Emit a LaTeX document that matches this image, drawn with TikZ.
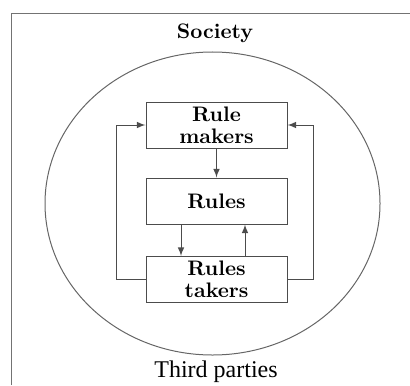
\documentclass[tikz,border=0pt]{standalone}
\usepackage{fontspec}
\setmainfont{Liberation Serif}
\newfontfamily\heavyserif{Latin Modern Roman}

\begin{document}
\begin{tikzpicture}[
x=0.5pt, y=-0.5pt,
line width=0.5pt,
draw=black!70,
box/.style={
draw=black!70,
align=center,
minimum width=70.5pt,
minimum height=23pt,
inner sep=1pt,
font=\fontsize{10.5}{11}\heavyserif\bfseries
}
]

\useasboundingbox (0,0) rectangle (410,385);

% frame and society
\draw[black!55] (11,385) -- (11,14) -- (410,14);
\draw[black!60] (212.5,203.5) ellipse [x radius=83.75pt, y radius=75.75pt];

\node (soc) at (215,33)
{\fontsize{10.5}{12}\heavyserif\bfseries Society};

\node (third) at (216,372)
{\fontsize{12}{12}\selectfont Third parties};

\node[box] (1) at (216.5,125)
{Rule\\makers};

\node[box] (2) at (216.5,201)
{Rules};

\node[box] (3) at (216.5,279.5)
{Rules\\takers};

\draw[-latex] (1) -- (2);
\draw[-latex] ([xshift=-17.75pt]2.south) -- ([xshift=-17.75pt]3.north);
\draw[-latex] ([xshift=14.25pt]3.north) -- ([xshift=14.25pt]2.south);
\draw[-latex] (3.west) -- ++(-29,0) |- (1.west);
\draw[-latex] (3.east) -- ++(26,0) |- (1.east);

\end{tikzpicture}
\end{document}
